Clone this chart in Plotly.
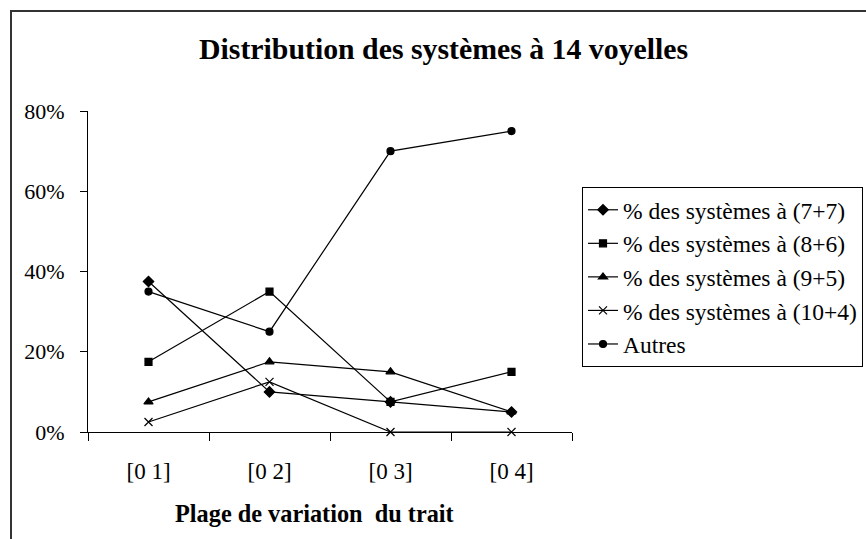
import plotly.graph_objects as go

# Categories and series (shares of 14-vowel systems)
categories = ["[0 1]", "[0 2]", "[0 3]", "[0 4]"]
series_names = [
    "% des systèmes à (7+7)",
    "% des systèmes à (8+6)",
    "% des systèmes à (9+5)",
    "% des systèmes à (10+4)",
    "Autres",
]
s_7_7 = [0.375, 0.10, 0.075, 0.05]
s_8_6 = [0.175, 0.35, 0.075, 0.15]
s_9_5 = [0.075, 0.175, 0.15, 0.05]
s_10_4 = [0.025, 0.125, 0.0, 0.0]
s_autres = [0.35, 0.25, 0.70, 0.75]
y_ticks = [0, 0.2, 0.4, 0.6, 0.8]

FONT = "Liberation Serif"
W, H = 866, 539
L, R, T, B = 88, 572, 111, 432  # plot area in pixels

symbols = ["diamond", "square", "triangle-up", "x-thin", "circle"]
sizes = [8, 7, 8, 8, 7]
values = [s_7_7, s_8_6, s_9_5, s_10_4, s_autres]

fig = go.Figure()
for name, vals, sym, sz in zip(series_names, values, symbols, sizes):
    fig.add_trace(go.Scatter(
        x=categories, y=vals, name=name, mode="lines+markers",
        line=dict(color="black", width=1.2),
        marker=dict(symbol=sym, size=sz, color="black",
                    line=dict(color="black", width=1.2)),
        cliponaxis=False,
    ))

def px_x(p):
    return (p - L) / (R - L)

def px_y(p):
    return (B - p) / (B - T)

fig.update_layout(
    width=W, height=H,
    margin=dict(l=L, r=W - R, t=T, b=H - B, pad=0, autoexpand=False),
    paper_bgcolor="white", plot_bgcolor="white",
    font=dict(family=FONT, size=23, color="black"),
    showlegend=True,
    legend=dict(
        x=px_x(582), y=px_y(187), xanchor="left", yanchor="top",
        bordercolor="black", borderwidth=1, bgcolor="white",
        font=dict(family=FONT, size=23.5, color="black"),
        itemwidth=30, tracegroupgap=0,
    ),
    xaxis=dict(
        type="category", range=[-0.5, 3.5],
        showline=True, linecolor="black", linewidth=1.2,
        ticks="outside", tickson="boundaries", ticklen=8,
        tickcolor="black", tickwidth=1,
        showgrid=False, zeroline=False,
        tickfont=dict(family=FONT, size=23),
        ticklabelstandoff=18,
    ),
    yaxis=dict(
        range=[0, 0.8], tickvals=y_ticks, tickformat=".0%",
        showline=True, linecolor="black", linewidth=1.2,
        ticks="outside", ticklen=7, tickcolor="black", tickwidth=1,
        showgrid=False, zeroline=False,
        tickfont=dict(family=FONT, size=22),
        ticklabelstandoff=11,
    ),
    shapes=[dict(
        type="rect", xref="paper", yref="paper",
        x0=px_x(11), x1=px_x(W + 40), y0=px_y(H + 40), y1=px_y(11),
        line=dict(color="#333333", width=2), fillcolor="rgba(0,0,0,0)",
        layer="below",
    )],
    annotations=[
        dict(text="<b>Distribution des systèmes à 14 voyelles</b>",
             xref="paper", yref="paper", x=px_x(443.5), y=px_y(48),
             xanchor="center", yanchor="middle", showarrow=False,
             font=dict(family=FONT, size=29.8, color="black")),
        dict(text="<b>Plage de variation \u00a0du trait</b>",
             xref="paper", yref="paper", x=px_x(314), y=px_y(513),
             xanchor="center", yanchor="middle", showarrow=False,
             font=dict(family=FONT, size=24.3, color="black")),
    ],
)

fig.write_html("out.html")
